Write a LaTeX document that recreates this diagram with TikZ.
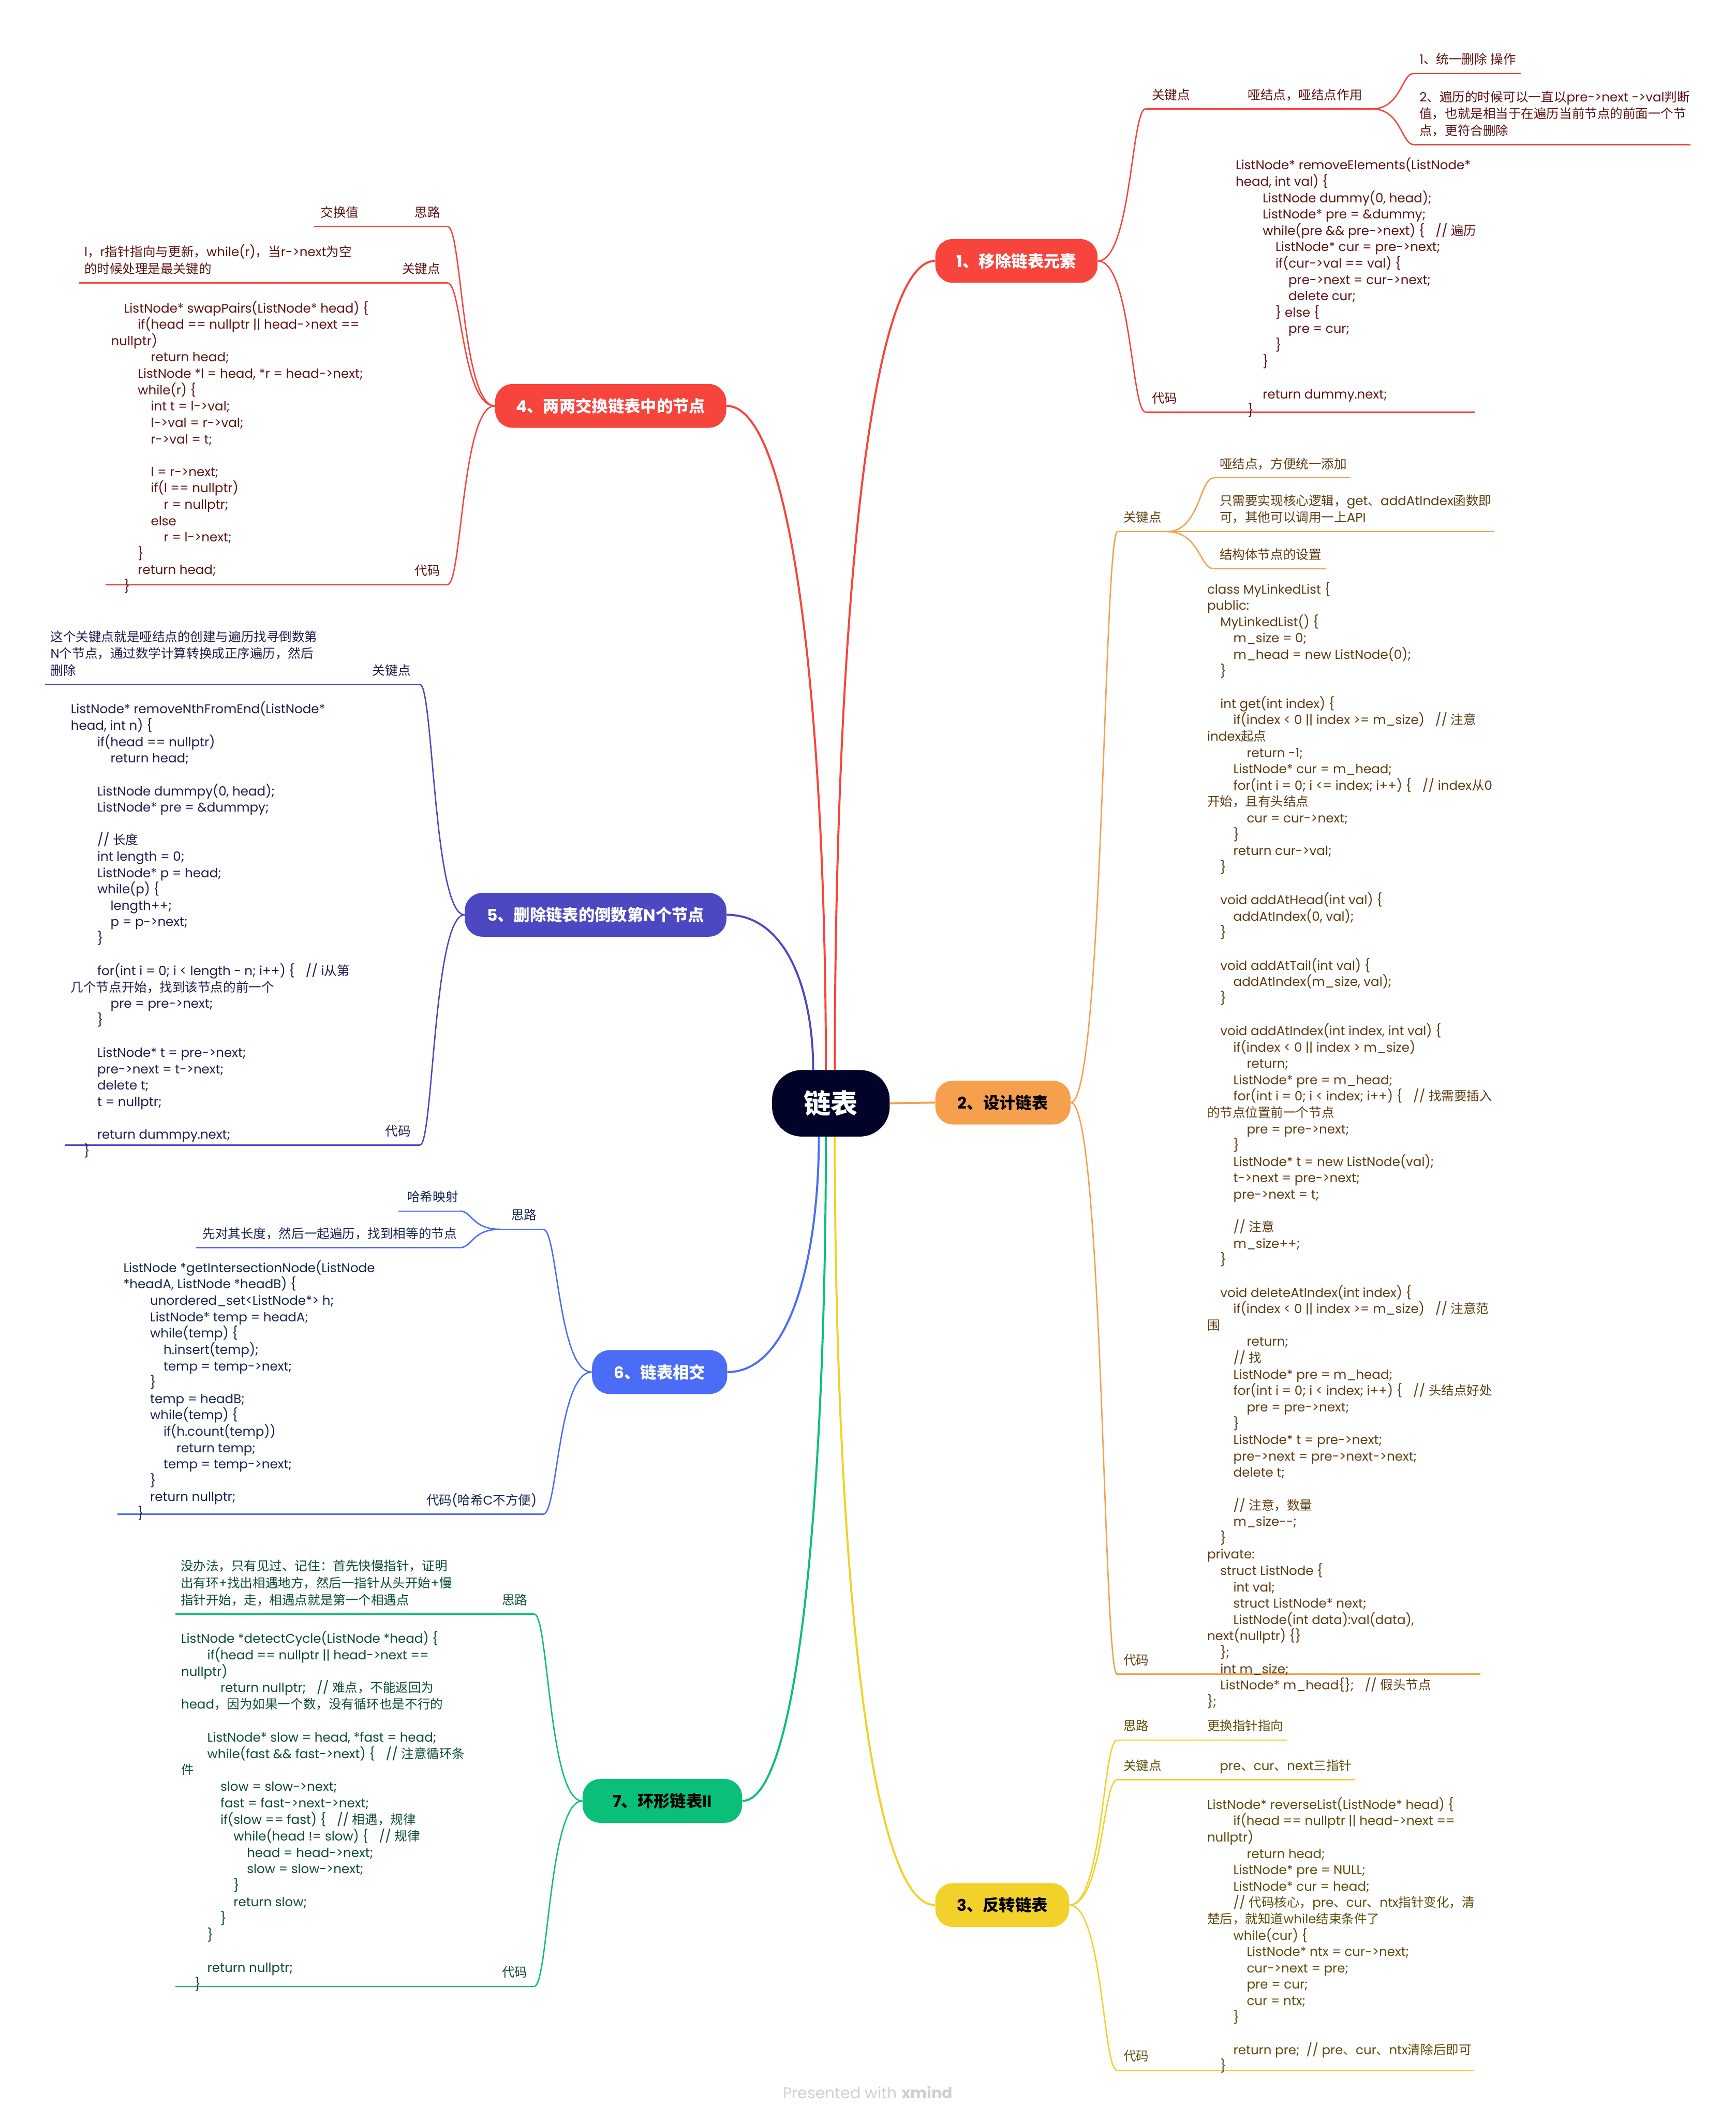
\documentclass[tikz,border=0pt]{standalone}
\usepackage{fontspec}
\setmainfont{Poppins}
\newfontfamily\latfont{Poppins}
\newfontfamily\cjkfont{Noto Sans CJK SC}
\usetikzlibrary{calc}
\pgfdeclarelayer{background}
\pgfsetlayers{background,main}
\XeTeXinterchartokenstate=1
\newXeTeXintercharclass\cjkcls
\newcount\cjkcnt
\newcommand\cjkrange[2]{\cjkcnt=#1\relax
  \loop\XeTeXcharclass\cjkcnt=\cjkcls\relax
  \ifnum\cjkcnt<#2\advance\cjkcnt by 1 \repeat}
\cjkrange{"3000}{"303F}
\cjkrange{"4E00}{"9FFF}
\cjkrange{"FF00}{"FFEF}
\XeTeXinterchartoks 0 \cjkcls = {\cjkfont}
\XeTeXinterchartoks 4095 \cjkcls = {\cjkfont}
\XeTeXinterchartoks \cjkcls 0 = {\latfont}
\XeTeXinterchartoks \cjkcls 4095 = {\latfont}

\definecolor{cnavy}{HTML}{020329}
\definecolor{cred}{HTML}{F7443D}
\definecolor{corange}{HTML}{F6A04D}
\definecolor{cyellow}{HTML}{F2D12B}
\definecolor{cindigo}{HTML}{4B48C1}
\definecolor{cblue}{HTML}{4B6CF7}
\definecolor{cgreen}{HTML}{0ABF78}
\definecolor{tred}{HTML}{5E1111}
\definecolor{torange}{HTML}{5E3B10}
\definecolor{tyellow}{HTML}{5A4C08}
\definecolor{tindigo}{HTML}{1D1C4E}
\definecolor{tblue}{HTML}{16234F}
\definecolor{tgreen}{HTML}{0B4B33}
\definecolor{wm}{HTML}{CFCFCF}

\tikzset{
 mainnode/.style={rounded corners=13pt, minimum height=32.4pt, inner sep=0pt, font=\fontsize{12}{14}\selectfont\bfseries},
 lbl/.style={inner sep=0pt, align=left, font={\fontsize{9.4}{12.5}\selectfont\lineskiplimit=-100pt}},
 codeblk/.style={inner sep=0pt, align=left, font={\fontsize{9.4}{12.1}\selectfont\lineskiplimit=-100pt}},
 subline/.style={line width=1pt},
 trunkline/.style={line width=1.5pt},
}
\newcommand\subto[3]{\draw[subline,#1] (#2) .. controls ($(#2)!0.7!(#2-|#3)$) and ($(#3-|#2)!0.7!(#3)$) .. (#3);}
\newcommand\trunkto[3]{\draw[trunkline,#1] (#2) .. controls ($(#2)!0.5!(#2|-#3)$) and ($(#2|-#3)!0.3!(#3)$) .. (#3);}
\newcommand\ci[1]{\strut\hspace*{#1pt}}
\newcommand\cgap{\hspace{8pt}}

\begin{document}
\lineskiplimit=-100pt
\begin{tikzpicture}[x=1pt,y=-1pt]
\useasboundingbox (0,0) rectangle (1284,1568);

% ---------- center and main topics ----------
\node[fill=cnavy, text=white, rounded corners=22pt, minimum width=87pt, minimum height=49.2pt, inner sep=0pt, font=\fontsize{20}{22}\selectfont\bfseries] (c) at (614.7,816) {链表};
\node[mainnode, fill=cred, text=white, minimum width=120pt] (n1) at (752,193) {1、移除链表元素};
\node[mainnode, fill=corange, text=black, minimum width=100pt] (n2) at (742,815.5) {2、设计链表};
\node[mainnode, fill=cyellow, text=black, minimum width=99pt] (n3) at (741.5,1409) {3、反转链表};
\node[mainnode, fill=cred, text=white, minimum width=171pt] (n4) at (451.8,300.2) {4、两两交换链表中的节点};
\node[mainnode, fill=cindigo, text=white, minimum width=193.5pt] (n5) at (440.65,676.6) {5、删除链表的倒数第N个节点};
\node[mainnode, fill=cblue, text=white, minimum width=100pt] (n6) at (488,1014.8) {6、链表相交};
\node[mainnode, fill=cgreen, text=black, minimum width=118pt] (n7) at (490,1332) {7、环形链表II};

\coordinate (ct1) at ($(c.north)+(2.9,0)$);
\coordinate (ct4) at ($(c.north)+(-3.7,0)$);
\coordinate (ct5) at ($(c.north)+(-13.1,0)$);
\coordinate (cb3) at ($(c.south)+(2.9,0)$);
\coordinate (cb7) at ($(c.south)+(-3.7,0)$);
\coordinate (cb6) at ($(c.south)+(-8.9,0)$);

% ---------- coordinates of underlines ----------
% branch 1
\coordinate (b1k) at (847.5,80.5); \coordinate (b1km) at (915,80.5); \coordinate (b1kb) at (1015,80.5);
\coordinate (b1a) at (1046,54.3); \coordinate (b1ae) at (1125,54.3);
\coordinate (b1b) at (1046,107); \coordinate (b1be) at (1250.5,107);
\coordinate (b1c) at (847.5,304.8); \coordinate (b1cm) at (910,304.8); \coordinate (b1ce) at (1091,304.8);
% branch 2
\coordinate (b2k) at (826.8,393.2); \coordinate (b2kb) at (863.3,393.2);
\coordinate (b2a) at (897.9,353.4); \coordinate (b2ae) at (999.3,353.4);
\coordinate (b2b) at (897.9,393.2); \coordinate (b2be) at (1105.6,393.2);
\coordinate (b2c) at (897.9,420.6); \coordinate (b2ce) at (980.6,420.6);
\coordinate (b2d) at (826.4,1238.3); \coordinate (b2dm) at (888,1238.3); \coordinate (b2de) at (1095.3,1238.3);
% branch 3
\coordinate (b3s) at (826.4,1287); \coordinate (b3sm) at (888,1287); \coordinate (b3se) at (952.6,1287);
\coordinate (b3k) at (826.4,1316.4); \coordinate (b3km) at (897,1316.4); \coordinate (b3ke) at (1002.7,1316.4);
\coordinate (b3c) at (826.4,1531.2); \coordinate (b3cm) at (888,1531.2); \coordinate (b3ce) at (1090.6,1531.2);
% branch 4
\coordinate (b4s) at (331.2,167.6); \coordinate (b4sm) at (296,167.6); \coordinate (b4se) at (232.2,167.6);
\coordinate (b4k) at (331.2,209.3); \coordinate (b4km) at (292,209.3); \coordinate (b4ke) at (58,209.3);
\coordinate (b4c) at (331.2,432.3); \coordinate (b4cm) at (296,432.3); \coordinate (b4ce) at (78.2,432.3);
% branch 5
\coordinate (b5k) at (310.7,506.3); \coordinate (b5km) at (271,506.3); \coordinate (b5ke) at (33.3,506.3);
\coordinate (b5c) at (310.7,846.9); \coordinate (b5cm) at (281,846.9); \coordinate (b5ce) at (48,846.9);
% branch 6
\coordinate (b6s) at (401.9,909.2); \coordinate (b6sb) at (370,909.2);
\coordinate (b6a) at (340.3,895.7); \coordinate (b6ae) at (294.6,895.7);
\coordinate (b6b) at (340.3,922.8); \coordinate (b6be) at (145.2,922.8);
\coordinate (b6c) at (401.9,1119.9); \coordinate (b6cm) at (316,1119.9); \coordinate (b6ce) at (87,1119.9);
% branch 7
\coordinate (b7s) at (395.2,1193.7); \coordinate (b7sm) at (368,1193.7); \coordinate (b7se) at (129.6,1193.7);
\coordinate (b7c) at (395.2,1469.2); \coordinate (b7cm) at (368,1469.2); \coordinate (b7ce) at (129.6,1469.2);

\begin{pgfonlayer}{background}
% trunks
\trunkto{cred}{ct1}{n1.west}
\trunkto{cred}{ct4}{n4.east}
\trunkto{cindigo}{ct5}{n5.east}
\trunkto{cblue}{cb6}{n6.east}
\trunkto{cgreen}{cb7}{n7.east}
\trunkto{cyellow}{cb3}{n3.west}
\draw[trunkline, corange] (c.east) -- (n2.west);
% branch 1
\subto{cred}{n1.east}{b1k}
\subto{cred}{n1.east}{b1c}
\draw[subline,cred] (b1k) -- (b1km) -- (b1kb);
\subto{cred}{b1kb}{b1a}
\subto{cred}{b1kb}{b1b}
\draw[subline,cred] (b1a) -- (b1ae);
\draw[subline,cred] (b1b) -- (b1be);
\draw[subline,cred] (b1c) -- (b1cm) -- (b1ce);
% branch 2
\subto{corange}{n2.east}{b2k}
\subto{corange}{n2.east}{b2d}
\draw[subline,corange] (b2k) -- (b2kb) -- (b2b) -- (b2be);
\subto{corange}{b2kb}{b2a}
\subto{corange}{b2kb}{b2c}
\draw[subline,corange] (b2a) -- (b2ae);
\draw[subline,corange] (b2c) -- (b2ce);
\draw[subline,corange] (b2d) -- (b2dm) -- (b2de);
% branch 3
\subto{cyellow}{n3.east}{b3s}
\subto{cyellow}{n3.east}{b3k}
\subto{cyellow}{n3.east}{b3c}
\draw[subline,cyellow] (b3s) -- (b3sm) -- (b3se);
\draw[subline,cyellow] (b3k) -- (b3km) -- (b3ke);
\draw[subline,cyellow] (b3c) -- (b3cm) -- (b3ce);
% branch 4
\subto{cred}{n4.west}{b4s}
\subto{cred}{n4.west}{b4k}
\subto{cred}{n4.west}{b4c}
\draw[subline,cred] (b4s) -- (b4sm) -- (b4se);
\draw[subline,cred] (b4k) -- (b4km) -- (b4ke);
\draw[subline,cred] (b4c) -- (b4cm) -- (b4ce);
% branch 5
\subto{cindigo}{n5.west}{b5k}
\subto{cindigo}{n5.west}{b5c}
\draw[subline,cindigo] (b5k) -- (b5km) -- (b5ke);
\draw[subline,cindigo] (b5c) -- (b5cm) -- (b5ce);
% branch 6
\subto{cblue}{n6.west}{b6s}
\subto{cblue}{n6.west}{b6c}
\draw[subline,cblue] (b6s) -- (b6sb);
\subto{cblue}{b6sb}{b6a}
\subto{cblue}{b6sb}{b6b}
\draw[subline,cblue] (b6a) -- (b6ae);
\draw[subline,cblue] (b6b) -- (b6be);
\draw[subline,cblue] (b6c) -- (b6cm) -- (b6ce);
% branch 7
\subto{cgreen}{n7.west}{b7s}
\subto{cgreen}{n7.west}{b7c}
\draw[subline,cgreen] (b7s) -- (b7sm) -- (b7se);
\draw[subline,cgreen] (b7c) -- (b7cm) -- (b7ce);
\end{pgfonlayer}

% ---------- branch 1 texts ----------
\begin{scope}[every node/.style={lbl, text=tred, anchor=south west}]
\node (l1k) at (852,77.5) {\strut 关键点};
\node (l1km) at (923,77.5) {\strut 哑结点，哑结点作用};
\node (l1a) at (1050,51.3) {\strut 1、统一删除 操作};
\node (l1b) at (1050,104) {\strut 2、遍历的时候可以一直以pre->next ->val判断\\\strut 值，也就是相当于在遍历当前节点的前面一个节\\\strut 点，更符合删除};
\node (l1c) at (852,301.8) {\strut 代码};
\end{scope}
\node[codeblk, text=tred, anchor=north west] (code1) at (914,116.5) {%
\ci{0}ListNode* removeElements(ListNode*\\
\ci{0}head, int val) \{\\
\ci{20}ListNode dummy(0, head);\\
\ci{20}ListNode* pre = \&dummy;\\
\ci{20}while(pre \&\& pre->next) \{\cgap// 遍历\\
\ci{29.5}ListNode* cur = pre->next;\\
\ci{29.5}if(cur->val == val) \{\\
\ci{39}pre->next = cur->next;\\
\ci{39}delete cur;\\
\ci{29.5}\} else \{\\
\ci{39}pre = cur;\\
\ci{29.5}\}\\
\ci{20}\}\\
\ci{0}\\
\ci{20}return dummy.next;\\
\ci{9}\}};

% ---------- branch 2 texts ----------
\begin{scope}[every node/.style={lbl, text=torange, anchor=south west}]
\node (l2k) at (830.9,390.2) {\strut 关键点};
\node (l2a) at (902.2,350.4) {\strut 哑结点，方便统一添加};
\node (l2b) at (902.2,390.2) {\strut 只需要实现核心逻辑，get、addAtIndex函数即\\\strut 可，其他可以调用一上API};
\node (l2c) at (902.2,417.6) {\strut 结构体节点的设置};
\node (l2d) at (830.9,1235.3) {\strut 代码};
\end{scope}
\node[codeblk, text=torange, anchor=north west] (code2) at (892.9,430.1) {%
\ci{0}class MyLinkedList \{\\
\ci{0}public:\\
\ci{9.7}MyLinkedList() \{\\
\ci{19.4}m\_size = 0;\\
\ci{19.4}m\_head = new ListNode(0);\\
\ci{9.7}\}\\
\ci{0}\\
\ci{9.7}int get(int index) \{\\
\ci{19.4}if(index < 0 || index >= m\_size)\cgap// 注意\\
\ci{0}index起点\\
\ci{29.3}return -1;\\
\ci{19.4}ListNode* cur = m\_head;\\
\ci{19.4}for(int i = 0; i <= index; i++) \{\cgap// index从0\\
\ci{0}开始，且有头结点\\
\ci{29.3}cur = cur->next;\\
\ci{19.4}\}\\
\ci{19.4}return cur->val;\\
\ci{9.7}\}\\
\ci{0}\\
\ci{9.7}void addAtHead(int val) \{\\
\ci{19.4}addAtIndex(0, val);\\
\ci{9.7}\}\\
\ci{0}\\
\ci{9.7}void addAtTail(int val) \{\\
\ci{19.4}addAtIndex(m\_size, val);\\
\ci{9.7}\}\\
\ci{0}\\
\ci{9.7}void addAtIndex(int index, int val) \{\\
\ci{19.4}if(index < 0 || index > m\_size)\\
\ci{29.3}return;\\
\ci{19.4}ListNode* pre = m\_head;\\
\ci{19.4}for(int i = 0; i < index; i++) \{\cgap// 找需要插入\\
\ci{0}的节点位置前一个节点\\
\ci{29.3}pre = pre->next;\\
\ci{19.4}\}\\
\ci{19.4}ListNode* t = new ListNode(val);\\
\ci{19.4}t->next = pre->next;\\
\ci{19.4}pre->next = t;\\
\ci{0}\\
\ci{19.4}// 注意\\
\ci{19.4}m\_size++;\\
\ci{9.7}\}\\
\ci{0}\\
\ci{9.7}void deleteAtIndex(int index) \{\\
\ci{19.4}if(index < 0 || index >= m\_size)\cgap// 注意范\\
\ci{0}围\\
\ci{29.3}return;\\
\ci{19.4}// 找\\
\ci{19.4}ListNode* pre = m\_head;\\
\ci{19.4}for(int i = 0; i < index; i++) \{\cgap// 头结点好处\\
\ci{29.3}pre = pre->next;\\
\ci{19.4}\}\\
\ci{19.4}ListNode* t = pre->next;\\
\ci{19.4}pre->next = pre->next->next;\\
\ci{19.4}delete t;\\
\ci{0}\\
\ci{19.4}// 注意，数量\\
\ci{19.4}m\_size-{}-;\\
\ci{9.7}\}\\
\ci{0}private:\\
\ci{9.7}struct ListNode \{\\
\ci{19.4}int val;\\
\ci{19.4}struct ListNode* next;\\
\ci{19.4}ListNode(int data):val(data),\\
\ci{0}next(nullptr) \{\}\\
\ci{9.7}\};\\
\ci{9.7}int m\_size;\\
\ci{9.7}ListNode* m\_head\{\};\cgap// 假头节点\\
\ci{0}\};};

% ---------- branch 3 texts ----------
\begin{scope}[every node/.style={lbl, text=tyellow, anchor=south west}]
\node (l3s) at (831,1284) {\strut 思路};
\node (l3sa) at (892.9,1284) {\strut 更换指针指向};
\node (l3k) at (831,1313.4) {\strut 关键点};
\node (l3ka) at (902.2,1313.4) {\strut pre、cur、next三指针};
\node (l3c) at (831,1528.2) {\strut 代码};
\end{scope}
\node[codeblk, text=tyellow, anchor=north west] (code3) at (892.9,1329) {%
\ci{0}ListNode* reverseList(ListNode* head) \{\\
\ci{19.4}if(head == nullptr || head->next ==\\
\ci{0}nullptr)\\
\ci{29.3}return head;\\
\ci{19.4}ListNode* pre = NULL;\\
\ci{19.4}ListNode* cur = head;\\
\ci{19.4}// 代码核心，pre、cur、ntx指针变化，清\\
\ci{0}楚后，就知道while结束条件了\\
\ci{19.4}while(cur) \{\\
\ci{29.3}ListNode* ntx = cur->next;\\
\ci{29.3}cur->next = pre;\\
\ci{29.3}pre = cur;\\
\ci{29.3}cur = ntx;\\
\ci{19.4}\}\\
\ci{0}\\
\ci{19.4}return pre;\hspace{5pt}// pre、cur、ntx清除后即可\\
\ci{9.7}\}};

% ---------- branch 4 texts ----------
\begin{scope}[every node/.style={lbl, text=tred}]
\node[anchor=south east] (l4s) at (326,164.6) {\strut 思路};
\node[anchor=south west] (l4sa) at (237,164.6) {\strut 交换值};
\node[anchor=south east] (l4k) at (326,206.3) {\strut 关键点};
\node[anchor=south west] (l4ka) at (62.2,206.3) {\strut l，r指针指向与更新，while(r)，当r->next为空\\\strut 的时候处理是最关键的};
\node[anchor=south east] (l4c) at (326,429.3) {\strut 代码};
\end{scope}
\node[codeblk, text=tred, anchor=north west] (code4) at (82,222.3) {%
\ci{9.6}ListNode* swapPairs(ListNode* head) \{\\
\ci{19.8}if(head == nullptr || head->next ==\\
\ci{0}nullptr)\\
\ci{29.4}return head;\\
\ci{19.8}ListNode *l = head, *r = head->next;\\
\ci{19.8}while(r) \{\\
\ci{29.4}int t = l->val;\\
\ci{29.4}l->val = r->val;\\
\ci{29.4}r->val = t;\\
\ci{0}\\
\ci{29.4}l = r->next;\\
\ci{29.4}if(l == nullptr)\\
\ci{39}r = nullptr;\\
\ci{29.4}else\\
\ci{39}r = l->next;\\
\ci{19.8}\}\\
\ci{19.8}return head;\\
\ci{9.6}\}};

% ---------- branch 5 texts ----------
\begin{scope}[every node/.style={lbl, text=tindigo}]
\node[anchor=south east] (l5k) at (304,503.3) {\strut 关键点};
\node[anchor=south west] (l5ka) at (37.2,503.3) {\strut 这个关键点就是哑结点的创建与遍历找寻倒数第\\\strut N个节点，通过数学计算转换成正序遍历，然后\\\strut 删除};
\node[anchor=south east] (l5c) at (304,843.9) {\strut 代码};
\end{scope}
\node[codeblk, text=tindigo, anchor=north west] (code5) at (52.2,518.9) {%
\ci{0}ListNode* removeNthFromEnd(ListNode*\\
\ci{0}head, int n) \{\\
\ci{19.6}if(head == nullptr)\\
\ci{29.4}return head;\\
\ci{0}\\
\ci{19.6}ListNode dummpy(0, head);\\
\ci{19.6}ListNode* pre = \&dummpy;\\
\ci{0}\\
\ci{19.6}// 长度\\
\ci{19.6}int length = 0;\\
\ci{19.6}ListNode* p = head;\\
\ci{19.6}while(p) \{\\
\ci{29.4}length++;\\
\ci{29.4}p = p->next;\\
\ci{19.6}\}\\
\ci{0}\\
\ci{19.6}for(int i = 0; i < length - n; i++) \{\cgap// i从第\\
\ci{0}几个节点开始，找到该节点的前一个\\
\ci{29.4}pre = pre->next;\\
\ci{19.6}\}\\
\ci{0}\\
\ci{19.6}ListNode* t = pre->next;\\
\ci{19.6}pre->next = t->next;\\
\ci{19.6}delete t;\\
\ci{19.6}t = nullptr;\\
\ci{0}\\
\ci{19.6}return dummpy.next;\\
\ci{9.8}\}};

% ---------- branch 6 texts ----------
\begin{scope}[every node/.style={lbl, text=tblue}]
\node[anchor=south east] (l6s) at (397.3,906.2) {\strut 思路};
\node[anchor=south west] (l6a) at (301.2,892.7) {\strut 哈希映射};
\node[anchor=south west] (l6b) at (149.7,919.8) {\strut 先对其长度，然后一起遍历，找到相等的节点};
\node[anchor=south east] (l6c) at (397.3,1116.9) {\strut 代码(哈希C不方便)};
\end{scope}
\node[codeblk, text=tblue, anchor=north west] (code6) at (91.1,932.1) {%
\ci{0}ListNode *getIntersectionNode(ListNode\\
\ci{0}*headA, ListNode *headB) \{\\
\ci{19.8}unordered\_set<ListNode*> h;\\
\ci{19.8}ListNode* temp = headA;\\
\ci{19.8}while(temp) \{\\
\ci{29.7}h.insert(temp);\\
\ci{29.7}temp = temp->next;\\
\ci{19.8}\}\\
\ci{19.8}temp = headB;\\
\ci{19.8}while(temp) \{\\
\ci{29.7}if(h.count(temp))\\
\ci{39.2}return temp;\\
\ci{29.7}temp = temp->next;\\
\ci{19.8}\}\\
\ci{19.8}return nullptr;\\
\ci{10.7}\}};

% ---------- branch 7 texts ----------
\begin{scope}[every node/.style={lbl, text=tgreen}]
\node[anchor=south east] (l7s) at (390.4,1190.7) {\strut 思路};
\node[anchor=south west] (l7sa) at (133.4,1190.7) {\strut 没办法，只有见过、记住：首先快慢指针，证明\\\strut 出有环+找出相遇地方，然后一指针从头开始+慢\\\strut 指针开始，走，相遇点就是第一个相遇点};
\node[anchor=south east] (l7c) at (390.4,1466.2) {\strut 代码};
\end{scope}
\node[codeblk, text=tgreen, anchor=north west, font={\fontsize{9.4}{12.18}\selectfont\lineskiplimit=-100pt}] (code7) at (133.8,1206.2) {%
\ci{0}ListNode *detectCycle(ListNode *head) \{\\
\ci{19.4}if(head == nullptr || head->next ==\\
\ci{0}nullptr)\\
\ci{29.1}return nullptr;\cgap// 难点，不能返回为\\
\ci{0}head，因为如果一个数，没有循环也是不行的\\
\ci{0}\\
\ci{19.4}ListNode* slow = head, *fast = head;\\
\ci{19.4}while(fast \&\& fast->next) \{\cgap// 注意循环条\\
\ci{0}件\\
\ci{29.1}slow = slow->next;\\
\ci{29.1}fast = fast->next->next;\\
\ci{29.1}if(slow == fast) \{\cgap// 相遇，规律\\
\ci{38.8}while(head != slow) \{\cgap// 规律\\
\ci{48.7}head = head->next;\\
\ci{48.7}slow = slow->next;\\
\ci{38.8}\}\\
\ci{38.8}return slow;\\
\ci{29.1}\}\\
\ci{19.4}\}\\
\ci{0}\\
\ci{19.4}return nullptr;\\
\ci{10.2}\}};

% ---------- watermark ----------
\node[text=wm, font=\fontsize{11.5}{13}\selectfont, inner sep=0pt] (wmk) at (642,1547.5) {Presented with \textbf{xmind}};
\end{tikzpicture}
\end{document}
